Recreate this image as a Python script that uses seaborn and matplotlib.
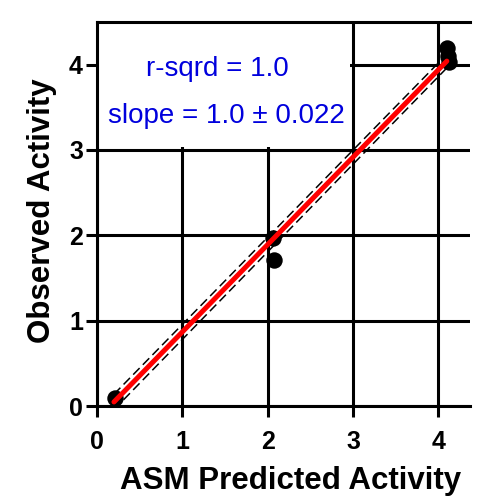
import numpy as np
import pandas as pd
import matplotlib
matplotlib.use("Agg")
import matplotlib.pyplot as plt
import seaborn as sns

# data
predicted = [0.21, 2.06, 2.07, 4.10, 4.12, 4.11]
observed = [0.10, 1.97, 1.71, 4.19, 4.03, 4.10]
fit_x = [0.20, 4.10]
fit_y = [0.05, 4.04]
upper_y = [0.14, 4.12]
lower_y = [-0.04, 3.96]
xticks = [0, 1, 2, 3, 4]
yticks = [0, 1, 2, 3, 4]

sns.set_theme(style="white")
plt.rcParams['font.family'] = ['Liberation Sans', 'DejaVu Sans']
plt.rcParams['text.color'] = 'black'
plt.rcParams['axes.labelcolor'] = 'black'
plt.rcParams['xtick.color'] = 'black'
plt.rcParams['ytick.color'] = 'black'

fig = plt.figure(figsize=(5.02, 4.96), dpi=100)
ax = fig.add_axes([0.193, 0.181, 0.743, 0.775])

ax.set_xlim(0, 4.37)
ax.set_ylim(0, 4.5)
ax.set_xticks(xticks)
ax.set_yticks(yticks)
ax.grid(True, color="black", linewidth=2.2)
ax.set_axisbelow(True)
ax.spines["right"].set_visible(False)
for s in ["left", "top", "bottom"]:
    ax.spines[s].set_color("black")
    ax.spines[s].set_linewidth(2.2)
ax.tick_params(axis="both", direction="out", length=8, width=2.2, color="black",
               labelsize=18, bottom=True, left=True, labelcolor="black")
ax.tick_params(axis="x", pad=9)
ax.tick_params(axis="y", pad=2)
for lab in ax.get_xticklabels() + ax.get_yticklabels():
    lab.set_fontweight("bold")

# white text box covering the grid
ax.fill_between([0.02, 2.97], 3.04, 4.47, color="white", zorder=1.5, linewidth=0)
ax.text(1.41, 3.95, "r-sqrd = 1.0", color="#0000dd", fontsize=20, ha="center", va="center", zorder=3)
ax.text(1.52, 3.40, "slope = 1.0 \u00b1 0.022", color="#0000dd", fontsize=20, ha="center", va="center", zorder=3)

df_pts = pd.DataFrame({"x": predicted, "y": observed})
sns.scatterplot(data=df_pts, x="x", y="y", ax=ax, color="black", s=140, edgecolor="black",
                linewidth=0, zorder=4, clip_on=False)
sns.lineplot(x=fit_x, y=upper_y, ax=ax, color="black", linewidth=1.1, linestyle=(0, (6, 3)), zorder=5)
sns.lineplot(x=fit_x, y=lower_y, ax=ax, color="black", linewidth=1.1, linestyle=(0, (6, 3)), zorder=5)
sns.lineplot(x=fit_x, y=fit_y, ax=ax, color="#ff0000", linewidth=3.6, zorder=6,
             solid_capstyle="round")

ax.set_xlabel("ASM Predicted Activity", fontsize=22.5, fontweight="bold")
ax.set_ylabel("Observed Activity", fontsize=22.5, fontweight="bold")
ax.xaxis.set_label_coords(0.52, -0.155)
ax.yaxis.set_label_coords(-0.108, 0.508)

fig.savefig("out.png", dpi=100)
